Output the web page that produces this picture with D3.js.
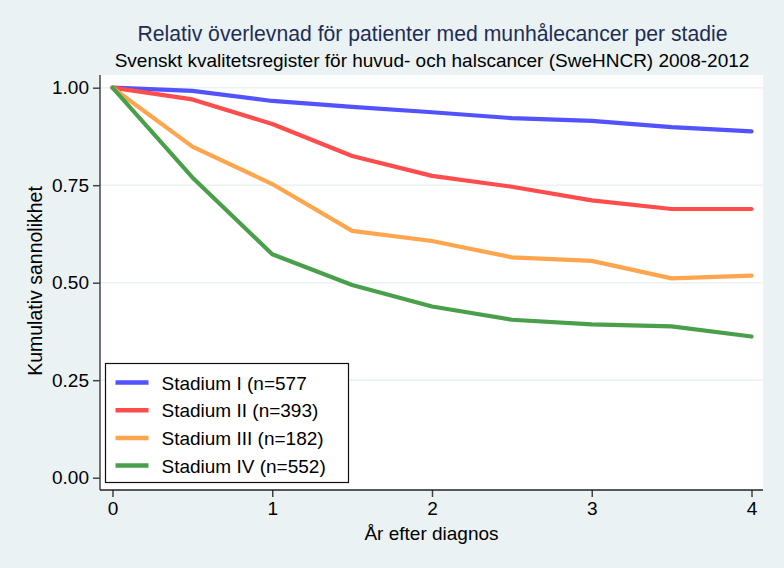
<!DOCTYPE html>
<html>
<head>
<meta charset="utf-8">
<script src="https://cdn.jsdelivr.net/npm/d3@7"></script>
<style>
  html, body { margin: 0; padding: 0; background: #eaf2f3; }
  svg { display: block; font-family: "Liberation Sans", Arial, Helvetica, sans-serif; }
</style>
</head>
<body>
<svg id="chart" width="784" height="568"></svg>
<script>
const title = "Relativ överlevnad för patienter med munhålecancer per stadie";
const subtitle = "Svenskt kvalitetsregister för huvud- och halscancer (SweHNCR) 2008-2012";
const xLabel = "År efter diagnos";
const yLabel = "Kumulativ sannolikhet";

const years = [0, 0.5, 1, 1.5, 2, 2.5, 3, 3.5, 4];
const seriesNames = ["Stadium I (n=577", "Stadium II (n=393)", "Stadium III (n=182)", "Stadium IV (n=552)"];
const stadiumI   = [1.00, 0.992, 0.966, 0.951, 0.937, 0.922, 0.915, 0.899, 0.888];
const stadiumII  = [1.00, 0.970, 0.907, 0.825, 0.774, 0.746, 0.711, 0.689, 0.689];
const stadiumIII = [1.00, 0.849, 0.753, 0.633, 0.607, 0.565, 0.556, 0.511, 0.518];
const stadiumIV  = [1.00, 0.770, 0.573, 0.494, 0.439, 0.405, 0.393, 0.388, 0.362];
const seriesColors = ["#5252ff", "#ff4d4d", "#ffa54d", "#4a9f4a"];
const xTicks = [0, 1, 2, 3, 4];
const yTicks = [0, 0.25, 0.5, 0.75, 1];

const allSeries = [stadiumI, stadiumII, stadiumIII, stadiumIV];

const svg = d3.select("#chart");
const W = 784, H = 568;
svg.append("rect").attr("width", W).attr("height", H).attr("fill", "#eaf2f3");

const plot = { left: 100, right: 763, top: 75, bottom: 490 };

const x = d3.scaleLinear().domain([0, 4]).range([112.5, 751.5]);
const y = d3.scaleLinear().domain([0, 1]).range([477.7, 87.7]);

// plot region
svg.append("rect")
  .attr("x", plot.left).attr("y", plot.top)
  .attr("width", plot.right - plot.left).attr("height", plot.bottom - plot.top)
  .attr("fill", "#ffffff");

// gridlines
svg.append("g").selectAll("line").data(yTicks.filter(d => d > 0)).join("line")
  .attr("x1", plot.left).attr("x2", plot.right)
  .attr("y1", d => y(d)).attr("y2", d => y(d))
  .attr("stroke", "#eaf2f3").attr("stroke-width", 1.5);

// titles
svg.append("text").attr("x", 432.5).attr("y", 41).attr("text-anchor", "middle")
  .attr("font-size", 21.2).attr("fill", "#1f2d55").text(title);
svg.append("text").attr("x", 432).attr("y", 67).attr("text-anchor", "middle")
  .attr("font-size", 19).attr("fill", "#000").text(subtitle);

// axes
const yAxis = d3.axisLeft(y).tickValues(yTicks).tickFormat(d3.format(".2f")).tickSize(7).tickPadding(4);
const gy = svg.append("g").attr("transform", `translate(${plot.left},0)`).call(yAxis);
gy.select(".domain").remove();
gy.append("line").attr("x1", 0).attr("x2", 0).attr("y1", plot.top).attr("y2", plot.bottom)
  .attr("stroke", "#444").attr("stroke-width", 1.5);
gy.selectAll(".tick line").attr("stroke", "#444").attr("stroke-width", 1.5);
gy.selectAll(".tick text").attr("font-size", 19).attr("fill", "#000")
  .attr("font-family", "Liberation Sans, Arial, sans-serif");

const xAxis = d3.axisBottom(x).tickValues(xTicks).tickFormat(d3.format("d")).tickSize(7).tickPadding(5);
const gx = svg.append("g").attr("transform", `translate(0,${plot.bottom})`).call(xAxis);
gx.select(".domain").remove();
gx.append("line").attr("x1", plot.left).attr("x2", plot.right).attr("y1", 0).attr("y2", 0)
  .attr("stroke", "#222").attr("stroke-width", 1.5);
gx.selectAll(".tick line").attr("stroke", "#444").attr("stroke-width", 1.5);
gx.selectAll(".tick text").attr("font-size", 19).attr("fill", "#000")
  .attr("font-family", "Liberation Sans, Arial, sans-serif");

// axis labels
svg.append("text").attr("x", 431.5).attr("y", 540).attr("text-anchor", "middle")
  .attr("font-size", 19).attr("fill", "#000").text(xLabel);
svg.append("text").attr("transform", "translate(42,281) rotate(-90)").attr("text-anchor", "middle")
  .attr("font-size", 19.5).attr("fill", "#000").text(yLabel);

// lines
const line = d3.line().x((d, i) => x(years[i])).y(d => y(d));
svg.append("g").selectAll("path").data(allSeries).join("path")
  .attr("d", d => line(d))
  .attr("fill", "none")
  .attr("stroke", (d, i) => seriesColors[i])
  .attr("stroke-width", 4.2)
  .attr("stroke-linejoin", "round")
  .attr("stroke-linecap", "round");

// legend
const lg = svg.append("g").attr("transform", "translate(105.5,363.5)");
lg.append("rect").attr("width", 243).attr("height", 119)
  .attr("fill", "#fff").attr("stroke", "#111").attr("stroke-width", 1.2);
const items = lg.selectAll("g.item").data(seriesNames).join("g")
  .attr("class", "item")
  .attr("transform", (d, i) => `translate(0,${19 + i * 27.7})`);
items.append("line").attr("x1", 10).attr("x2", 43).attr("y1", 0).attr("y2", 0)
  .attr("stroke", (d, i) => seriesColors[i]).attr("stroke-width", 4.5);
items.append("text").attr("x", 56).attr("y", 7).attr("font-size", 19).attr("fill", "#000")
  .text(d => d);
</script>
</body>
</html>
